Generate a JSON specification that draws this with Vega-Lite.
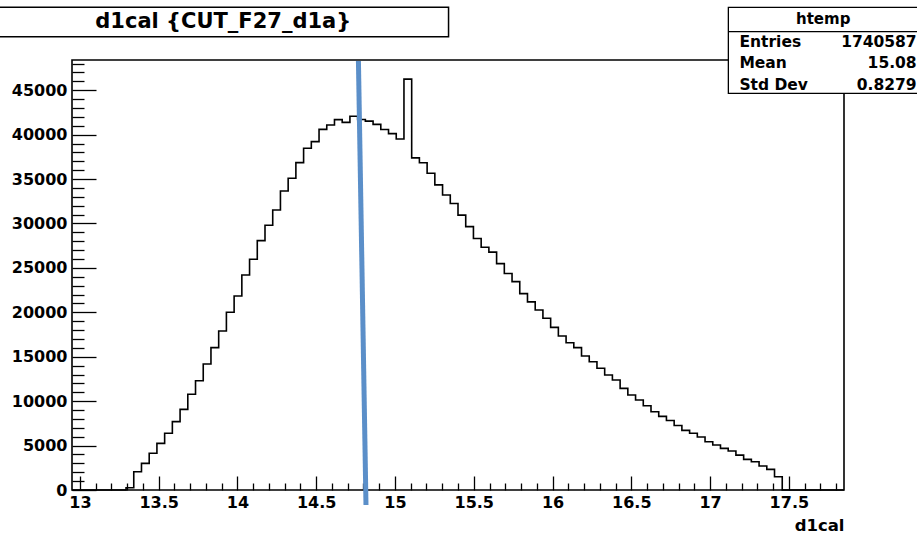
{
  "$schema": "https://vega.github.io/schema/vega-lite/v6.json",
  "width": 772,
  "height": 430,
  "autosize": {"type": "none"},
  "padding": {"left": 72, "top": 60, "right": 73, "bottom": 44},
  "background": "white",
  "config": {"view": {"stroke": null}},
  "datasets": {
    "hist": [
      {"x": 12.95, "n": 0},
      {"x": 13.293, "n": 250},
      {"x": 13.342, "n": 2050},
      {"x": 13.391, "n": 3000},
      {"x": 13.44, "n": 4130},
      {"x": 13.489, "n": 5250},
      {"x": 13.538, "n": 6380},
      {"x": 13.587, "n": 7700},
      {"x": 13.636, "n": 9080},
      {"x": 13.685, "n": 10770},
      {"x": 13.734, "n": 12300},
      {"x": 13.783, "n": 14180},
      {"x": 13.832, "n": 16020},
      {"x": 13.881, "n": 17900},
      {"x": 13.93, "n": 20000},
      {"x": 13.979, "n": 21840},
      {"x": 14.028, "n": 24200},
      {"x": 14.077, "n": 25970},
      {"x": 14.126, "n": 28070},
      {"x": 14.175, "n": 29800},
      {"x": 14.224, "n": 31520},
      {"x": 14.273, "n": 33660},
      {"x": 14.322, "n": 35090},
      {"x": 14.371, "n": 36850},
      {"x": 14.42, "n": 38470},
      {"x": 14.469, "n": 39210},
      {"x": 14.518, "n": 40590},
      {"x": 14.567, "n": 41080},
      {"x": 14.616, "n": 41690},
      {"x": 14.665, "n": 41380},
      {"x": 14.714, "n": 42070},
      {"x": 14.763, "n": 41700},
      {"x": 14.812, "n": 41520},
      {"x": 14.861, "n": 41150},
      {"x": 14.91, "n": 40570},
      {"x": 14.959, "n": 40110},
      {"x": 15.008, "n": 39500},
      {"x": 15.057, "n": 46250},
      {"x": 15.106, "n": 37380},
      {"x": 15.155, "n": 36830},
      {"x": 15.204, "n": 35650},
      {"x": 15.253, "n": 34340},
      {"x": 15.302, "n": 33210},
      {"x": 15.351, "n": 32240},
      {"x": 15.4, "n": 30940},
      {"x": 15.449, "n": 29650},
      {"x": 15.498, "n": 28310},
      {"x": 15.547, "n": 27320},
      {"x": 15.596, "n": 26780},
      {"x": 15.645, "n": 25480},
      {"x": 15.694, "n": 24370},
      {"x": 15.743, "n": 23450},
      {"x": 15.792, "n": 22100},
      {"x": 15.841, "n": 21170},
      {"x": 15.89, "n": 20260},
      {"x": 15.939, "n": 19330},
      {"x": 15.988, "n": 18310},
      {"x": 16.037, "n": 17330},
      {"x": 16.086, "n": 16580},
      {"x": 16.135, "n": 16020},
      {"x": 16.184, "n": 15080},
      {"x": 16.233, "n": 14440},
      {"x": 16.282, "n": 13700},
      {"x": 16.331, "n": 12940},
      {"x": 16.38, "n": 12380},
      {"x": 16.429, "n": 11440},
      {"x": 16.478, "n": 10690},
      {"x": 16.527, "n": 10130},
      {"x": 16.576, "n": 9490},
      {"x": 16.625, "n": 8810},
      {"x": 16.674, "n": 8290},
      {"x": 16.723, "n": 7820},
      {"x": 16.772, "n": 7260},
      {"x": 16.821, "n": 6710},
      {"x": 16.87, "n": 6380},
      {"x": 16.919, "n": 5960},
      {"x": 16.968, "n": 5430},
      {"x": 17.017, "n": 5060},
      {"x": 17.066, "n": 4690},
      {"x": 17.115, "n": 4390},
      {"x": 17.164, "n": 3930},
      {"x": 17.213, "n": 3450},
      {"x": 17.262, "n": 3180},
      {"x": 17.311, "n": 2700},
      {"x": 17.36, "n": 2320},
      {"x": 17.409, "n": 1490},
      {"x": 17.458, "n": 0},
      {"x": 17.85, "n": 0}
    ],
    "frame": [{"x1": 12.95, "x2": 17.85, "y1": 0, "y2": 48400}],
    "blue": [{"x1": 14.768, "y1": 48289, "x2": 14.816, "y2": -1688}],
    "titlebox": [{"x1": 12.48, "x2": 15.34, "y1": 51024, "y2": 54333}],
    "titletext": [{"x": 13.91, "y": 51970, "t": "d1cal {CUT_F27_d1a}"}],
    "statbox": [{"x1": 17.116, "x2": 18.318, "y1": 44653, "y2": 54333}],
    "statsep": [{"x1": 17.116, "x2": 18.318, "y": 51587}],
    "statname": [{"x": 17.718, "y": 52454, "t": "htemp"}],
    "statkeys": [
      {"x": 17.186, "y": 49831, "t": "Entries"},
      {"x": 17.186, "y": 47467, "t": "Mean"},
      {"x": 17.186, "y": 45025, "t": "Std Dev"}
    ],
    "statvals": [
      {"x": 18.311, "y": 49831, "t": "1740587"},
      {"x": 18.311, "y": 47467, "t": "15.08"},
      {"x": 18.311, "y": 45025, "t": "0.8279"}
    ]
  },
  "resolve": {"axis": {"x": "independent", "y": "independent"}},
  "layer": [
    {
      "data": {"name": "frame"},
      "mark": {"type": "rect", "filled": false, "stroke": "black", "strokeWidth": 1.6, "clip": false},
      "encoding": {
        "x": {"field": "x1", "type": "quantitative", "scale": {"domain": [12.95, 17.85], "nice": false, "zero": false}, "axis": null},
        "x2": {"field": "x2"},
        "y": {"field": "y1", "type": "quantitative", "scale": {"domain": [0, 48400], "nice": false, "zero": false}, "axis": null},
        "y2": {"field": "y2"}
      }
    },
    {
      "data": {"name": "hist"},
      "mark": {"type": "line", "interpolate": "step-after", "color": "black", "strokeWidth": 1.6, "strokeJoin": "miter", "clip": false},
      "encoding": {
        "x": {
          "field": "x", "type": "quantitative",
          "axis": {
            "orient": "bottom",
            "values": [13, 13.5, 14, 14.5, 15, 15.5, 16, 16.5, 17, 17.5],
            "format": "~g",
            "grid": false,
            "domain": false,
            "ticks": true,
            "tickSize": -14,
            "tickWidth": 1.3,
            "tickColor": "black",
            "labelPadding": 18,
            "labelFont": "DejaVu Sans",
            "labelFontWeight": "bold",
            "labelFontSize": 16,
            "labelColor": "black",
            "labelFlush": false,
            "labelOverlap": false,
            "title": "d1cal",
            "titleFont": "DejaVu Sans",
            "titleFontWeight": "bold",
            "titleFontSize": 16.5,
            "titleColor": "black",
            "titleAnchor": "end",
            "titleAlign": "right",
            "titleBaseline": "alphabetic",
            "titleX": 772,
            "titleY": 40
          }
        },
        "y": {
          "field": "n", "type": "quantitative",
          "axis": {
            "orient": "left",
            "values": [0, 5000, 10000, 15000, 20000, 25000, 30000, 35000, 40000, 45000],
            "format": "d",
            "grid": false,
            "domain": false,
            "ticks": true,
            "tickSize": -24,
            "tickWidth": 1.3,
            "tickColor": "black",
            "labelPadding": 29,
            "labelFont": "DejaVu Sans",
            "labelFontWeight": "bold",
            "labelFontSize": 16,
            "labelColor": "black",
            "labelFlush": false,
            "labelOverlap": false,
            "title": null
          }
        }
      }
    },
    {
      "data": {"name": "hist"},
      "mark": {"type": "point", "opacity": 0, "clip": false},
      "encoding": {
        "x": {
          "field": "x", "type": "quantitative",
          "axis": {
            "orient": "bottom",
            "values": [13.1, 13.2, 13.3, 13.4, 13.6, 13.7, 13.8, 13.9, 14.1, 14.2, 14.3, 14.4, 14.6, 14.7, 14.8, 14.9, 15.1, 15.2, 15.3, 15.4, 15.6, 15.7, 15.8, 15.9, 16.1, 16.2, 16.3, 16.4, 16.6, 16.7, 16.8, 16.9, 17.1, 17.2, 17.3, 17.4, 17.6, 17.7, 17.8],
            "grid": false, "domain": false, "labels": false, "title": null,
            "tickSize": -7, "tickWidth": 1.3, "tickColor": "black"
          }
        },
        "y": {
          "field": "n", "type": "quantitative",
          "axis": {
            "orient": "left",
            "values": [1000, 2000, 3000, 4000, 6000, 7000, 8000, 9000, 11000, 12000, 13000, 14000, 16000, 17000, 18000, 19000, 21000, 22000, 23000, 24000, 26000, 27000, 28000, 29000, 31000, 32000, 33000, 34000, 36000, 37000, 38000, 39000, 41000, 42000, 43000, 44000, 46000, 47000, 48000],
            "grid": false, "domain": false, "labels": false, "title": null,
            "tickSize": -12, "tickWidth": 1.3, "tickColor": "black"
          }
        }
      }
    },
    {
      "data": {"name": "blue"},
      "mark": {"type": "rule", "color": "#5b8fc9", "strokeWidth": 5, "strokeCap": "butt", "clip": false},
      "encoding": {
        "x": {"field": "x1", "type": "quantitative", "axis": null},
        "y": {"field": "y1", "type": "quantitative", "axis": null},
        "x2": {"field": "x2"},
        "y2": {"field": "y2"}
      }
    },
    {
      "data": {"name": "titlebox"},
      "mark": {"type": "rect", "fill": "white", "stroke": "black", "strokeWidth": 1.5, "clip": false},
      "encoding": {
        "x": {"field": "x1", "type": "quantitative", "axis": null},
        "x2": {"field": "x2"},
        "y": {"field": "y1", "type": "quantitative", "axis": null},
        "y2": {"field": "y2"}
      }
    },
    {
      "data": {"name": "titletext"},
      "mark": {"type": "text", "font": "DejaVu Sans", "fontWeight": "bold", "fontSize": 21, "align": "center", "baseline": "alphabetic", "color": "black", "clip": false},
      "encoding": {
        "x": {"field": "x", "type": "quantitative", "axis": null},
        "y": {"field": "y", "type": "quantitative", "axis": null},
        "text": {"field": "t"}
      }
    },
    {
      "data": {"name": "statbox"},
      "mark": {"type": "rect", "fill": "white", "stroke": "black", "strokeWidth": 1.3, "clip": false},
      "encoding": {
        "x": {"field": "x1", "type": "quantitative", "axis": null},
        "x2": {"field": "x2"},
        "y": {"field": "y1", "type": "quantitative", "axis": null},
        "y2": {"field": "y2"}
      }
    },
    {
      "data": {"name": "statsep"},
      "mark": {"type": "rule", "color": "black", "strokeWidth": 1.3, "clip": false},
      "encoding": {
        "x": {"field": "x1", "type": "quantitative", "axis": null},
        "x2": {"field": "x2"},
        "y": {"field": "y", "type": "quantitative", "axis": null}
      }
    },
    {
      "data": {"name": "statname"},
      "mark": {"type": "text", "font": "DejaVu Sans", "fontWeight": "bold", "fontSize": 15, "align": "center", "baseline": "alphabetic", "color": "black", "clip": false},
      "encoding": {
        "x": {"field": "x", "type": "quantitative", "axis": null},
        "y": {"field": "y", "type": "quantitative", "axis": null},
        "text": {"field": "t"}
      }
    },
    {
      "data": {"name": "statkeys"},
      "mark": {"type": "text", "font": "DejaVu Sans", "fontWeight": "bold", "fontSize": 15.5, "align": "left", "baseline": "alphabetic", "color": "black", "clip": false},
      "encoding": {
        "x": {"field": "x", "type": "quantitative", "axis": null},
        "y": {"field": "y", "type": "quantitative", "axis": null},
        "text": {"field": "t"}
      }
    },
    {
      "data": {"name": "statvals"},
      "mark": {"type": "text", "font": "DejaVu Sans", "fontWeight": "bold", "fontSize": 15.5, "align": "right", "baseline": "alphabetic", "color": "black", "clip": false},
      "encoding": {
        "x": {"field": "x", "type": "quantitative", "axis": null},
        "y": {"field": "y", "type": "quantitative", "axis": null},
        "text": {"field": "t"}
      }
    }
  ]
}
